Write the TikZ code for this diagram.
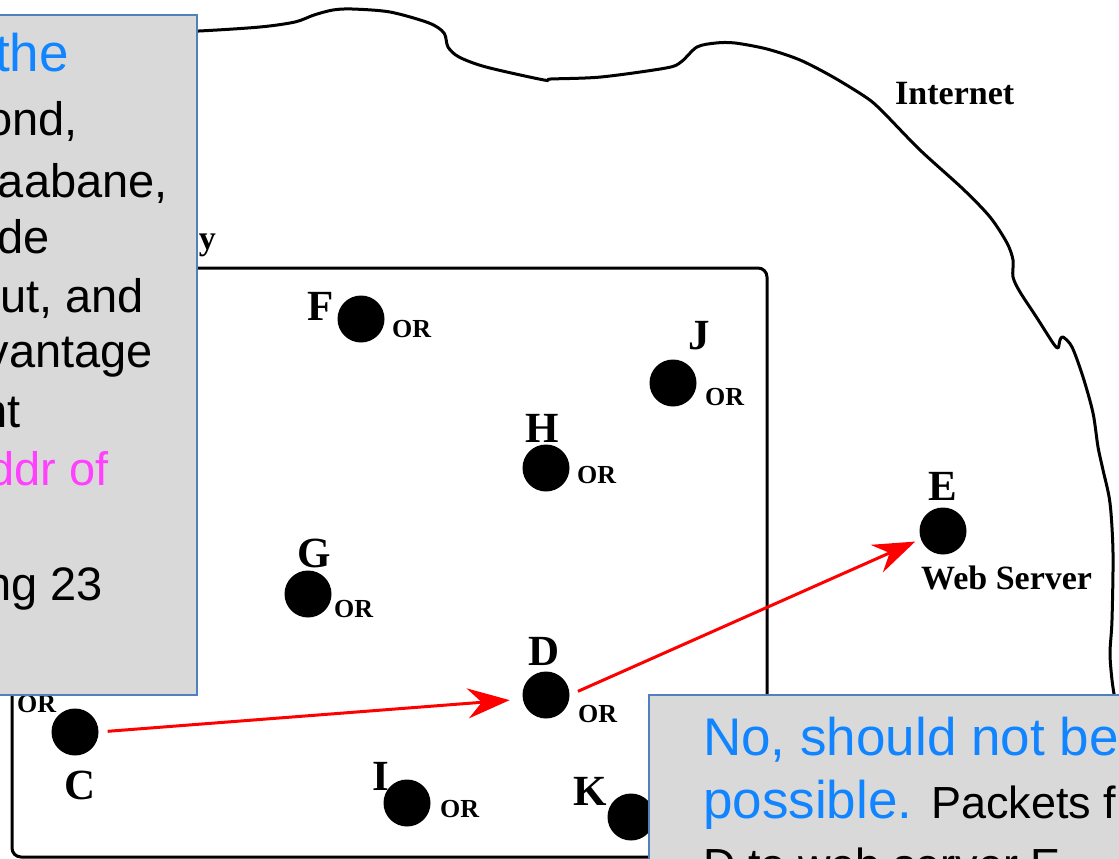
\documentclass[tikz,border=0pt]{standalone}
\usepackage{fontspec}
\setmainfont{Liberation Serif}
\setsansfont{Liberation Sans}
\usetikzlibrary{arrows.meta}
\definecolor{boxblue}{HTML}{4F81BD}
\definecolor{boxgray}{HTML}{D9D9D9}
\definecolor{noteblue}{HTML}{1185FF}
\definecolor{notepink}{HTML}{FF40FF}
\definecolor{pathred}{HTML}{FF0000}

\begin{document}
\begin{tikzpicture}[x=1pt,y=-1pt,
  router/.style={circle,fill=black,inner sep=0pt,minimum size=47pt},
  hostname/.style={font=\fontsize{43}{43}\selectfont\bfseries,inner sep=0pt,anchor=base west},
  ortag/.style={font=\fontsize{26}{26}\selectfont\bfseries,inner sep=0pt,anchor=base west},
  caption/.style={font=\fontsize{34}{34}\selectfont\bfseries,inner sep=0pt},
  note/.style={font=\sffamily\fontsize{47}{47}\selectfont,inner sep=0pt},
  smallnote/.style={font=\sffamily\fontsize{45}{45}\selectfont,inner sep=0pt},
  bignote/.style={font=\sffamily\fontsize{53}{53}\selectfont,inner sep=0pt,text=noteblue},
  callout/.style={draw=boxblue,fill=boxgray,line width=2pt},
  route/.style={draw=pathred,line width=3pt,-{Stealth[length=42pt,width=30pt,inset=14pt]}},
]
\useasboundingbox (0,0) rectangle (1119,859);

% Internet cloud outline
\draw[line width=3pt,line join=round] plot[smooth,tension=0.5] coordinates {
  (120,34) (199,31) (260,27) (295,22) (314,15) (333,10) (352,9) (390,12)
  (429,23) (444,33) (448,47) (459,57) (486,67) (544,80) (551,79) (601,77)
  (666,68) (681,62) (697,47) (716,43) (735,43) (767,49) (800,60) (833,77)
  (867,98) (883,112) (920,150) (963,189) (990,217) (1007,243) (1013,260)
  (1013,277) (1020,292) (1037,318) (1053,343) (1058,348) (1060,340)
  (1063,337) (1072,347) (1083,377) (1093,413) (1098,447) (1103,470)
  (1110,503) (1113,553) (1112,620) (1110,653) (1112,680) (1115,700)};
\node[caption,anchor=base west] (inet) at (895,104) {Internet};

% Enterprise network boundary
\draw[line width=3pt,rounded corners=9pt] (12,268) rectangle (767,857);
\node[caption,anchor=base east] (netname) at (216,249) {y};

% Routers and hosts
\node[router] (F) at (361,319) {};
\node[router] (J) at (673,383) {};
\node[router] (H) at (546,468) {};
\node[router] (G) at (308,594) {};
\node[router] (D) at (546,695) {};
\node[router] (C) at (75,732) {};
\node[router] (I) at (407,803) {};
\node[router] (K) at (631,817) {};
\node[router] (E) at (943,531) {};

\node[hostname] (Fname) at (307,320) {F};
\node[ortag] (For) at (392,337) {OR};
\node[hostname] (Jname) at (688,349) {J};
\node[ortag] (Jor) at (705,405) {OR};
\node[hostname] (Hname) at (525,442) {H};
\node[ortag] (Hor) at (577,483) {OR};
\node[hostname] (Gname) at (297,567) {G};
\node[ortag] (Gor) at (334,617) {OR};
\node[hostname] (Dname) at (528,665) {D};
\node[ortag] (Dor) at (578,722) {OR};
\node[hostname] (Cname) at (64,799) {C};
\node[ortag] (Cor) at (17,712) {OR};
\node[hostname] (Iname) at (372,790) {I};
\node[ortag] (Ior) at (440,817) {OR};
\node[hostname] (Kname) at (573,805) {K};
\node[hostname] (Ename) at (928,500) {E};
\node[caption,anchor=base west] (Erole) at (921,589) {Web Server};

% Packet route C -> D -> E
\draw[route,shorten <=9pt,shorten >=13pt] (C.east) -- (D.190);
\draw[route,shorten <=9pt,shorten >=6pt] (D.east) -- (E.200);

% Left note
\draw[callout] (-10,15) rectangle (197,695);
\node[bignote,anchor=base east] (l1) at (69,72) {the};
\node[note,anchor=base east] (l2) at (78,135) {ond,};
\node[note,anchor=base east] (l3) at (168,197) {aabane,};
\node[note,anchor=base east] (l4) at (50,253) {de};
\node[note,anchor=base east] (l5) at (144,312) {ut, and};
\node[note,anchor=base east] (l6) at (153,367) {vantage};
\node[note,anchor=base east] (l7) at (21,427) {nt};
\node[note,anchor=base east,text=notepink] (l8) at (109,485) {ddr of};
\node[note,anchor=base east] (l9) at (103,600) {ng 23};

% Bottom note
\draw[callout] (649,695) rectangle (1130,870);
\node[bignote,anchor=base west] (r1) at (703,755) {No, should not be};
\node[bignote,anchor=base west] (r2) at (703,818) {possible.};
\node[smallnote,anchor=base west] (r3) at (931,818) {Packets f};
\node[smallnote,anchor=base west] (r4) at (703,880) {D to web server E};
\end{tikzpicture}
\end{document}
